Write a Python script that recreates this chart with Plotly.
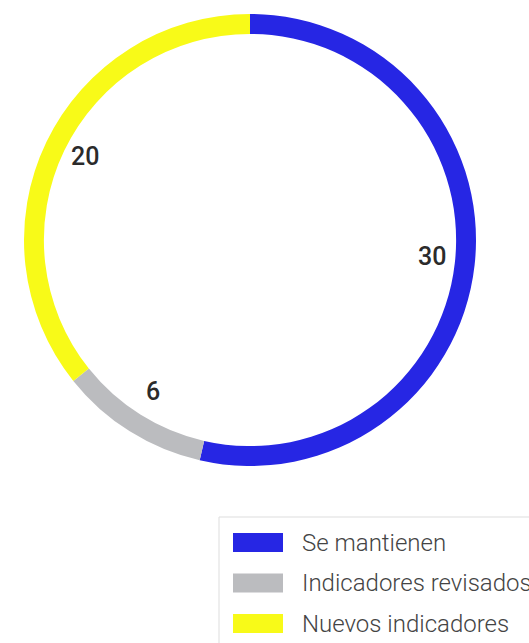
import math
import plotly.graph_objects as go

labels = ["Se mantienen", "Indicadores revisados", "Nuevos indicadores"]
values = [30, 6, 20]
colors = ["#2626e4", "#bbbcbf", "#f8fa18"]

W, H = 529, 643
# ring geometry in pixels
cx, cy, r = 250, 240, 226


def px(x):
    return x / W


def py(y):
    return 1 - y / H


fig = go.Figure(
    go.Pie(
        labels=labels,
        values=values,
        marker=dict(colors=colors, line=dict(width=0)),
        hole=0.912,
        sort=False,
        direction="clockwise",
        rotation=0,
        textinfo="none",
        hoverinfo="label+value",
        showlegend=False,
        domain=dict(x=[px(cx - r), px(cx + r)], y=[py(cy + r), py(cy - r)]),
    )
)

# value labels just inside the ring, at the middle of each slice
total = sum(values)
cum = 0
for v in values:
    theta = 2 * math.pi * (cum + v / 2) / total
    cum += v
    lx = cx + 0.81 * r * math.sin(theta)
    ly = cy - 0.81 * r * math.cos(theta) - 4
    fig.add_annotation(
        x=px(lx), y=py(ly), xref="paper", yref="paper",
        text=str(v), showarrow=False,
        font=dict(family="Roboto", size=25, color="#2b2b2b", weight=500),
        xanchor="center", yanchor="middle",
    )

# hand drawn legend box
fig.add_shape(type="rect", xref="paper", yref="paper",
              x0=px(219), x1=px(560), y0=py(517), y1=py(680),
              line=dict(color="#dddddd", width=1), fillcolor="rgba(0,0,0,0)")
for i, (lab, col) in enumerate(zip(labels, colors)):
    ym = 542.5 + i * 40.5
    fig.add_shape(type="rect", xref="paper", yref="paper",
                  x0=px(233), x1=px(283), y0=py(ym - 9.5), y1=py(ym + 9.5),
                  line=dict(width=0), fillcolor=col)
    fig.add_annotation(
        x=px(300), y=py(ym), xref="paper", yref="paper",
        text=lab, showarrow=False,
        font=dict(family="Roboto", size=24, color="#444444", weight=300),
        xanchor="left", yanchor="middle",
    )

fig.update_layout(
    width=W, height=H,
    margin=dict(l=0, r=0, t=0, b=0),
    paper_bgcolor="white",
    plot_bgcolor="white",
)

fig.write_html(
    "out.html",
    config={"displayModeBar": False},
    post_script="document.body.style.margin='0';document.body.style.overflow='hidden';",
)
